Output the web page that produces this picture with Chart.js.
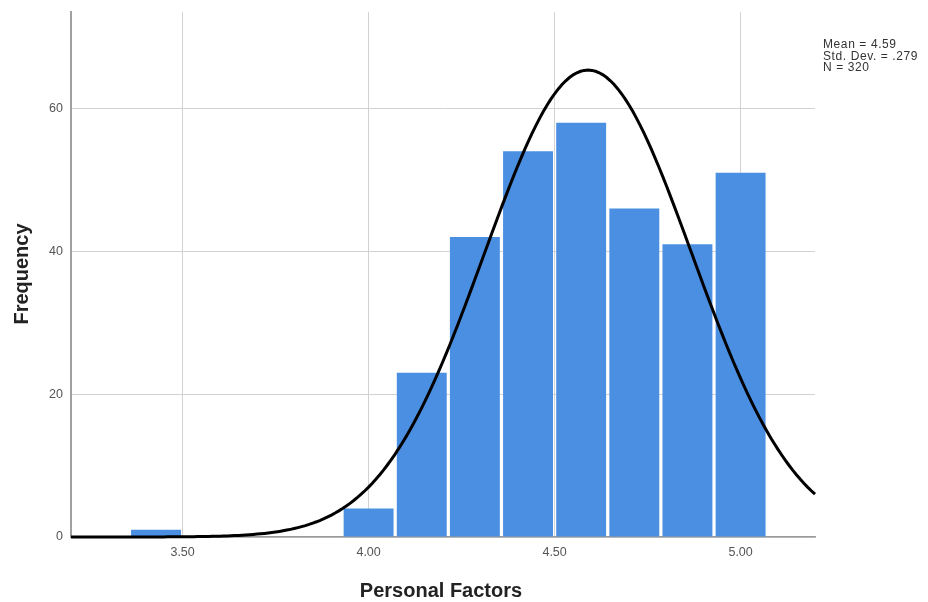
<!DOCTYPE html>
<html>
<head>
<meta charset="utf-8">
<script src="https://cdn.jsdelivr.net/npm/chart.js@4"></script>
<style>
  html, body { margin: 0; padding: 0; background: #ffffff; }
  #wrap { width: 928px; height: 602px; }
</style>
</head>
<body>
<div id="wrap"><canvas id="hist" width="928" height="602"></canvas></div>
<script>
// Histogram of Personal Factors scores (bins of width 1/7)
const BIN_CENTERS = [3.4286, 4.0000, 4.1429, 4.2857, 4.4286, 4.5714, 4.7143, 4.8571, 5.0000];
const FREQUENCIES = [1, 4, 23, 42, 54, 58, 46, 41, 51];
const X_TICKS = [3.5, 4.0, 4.5, 5.0];
const X_TICK_LABELS = ['3.50', '4.00', '4.50', '5.00'];
const Y_TICKS = [0, 20, 40, 60];
const STATS_LINES = ['Mean = 4.59', 'Std. Dev. = .279', 'N = 320'];

// Summary statistics used for the fitted normal curve
const MEAN = 4.59;
const STD_DEV = 0.279;
const N_CASES = 320;
const BIN_WIDTH = 1 / 7;
const X_MIN = 3.2, X_MAX = 5.2;

// Normal density scaled to counts per bin
function normalCount(x) {
  const z = (x - MEAN) / STD_DEV;
  return N_CASES * BIN_WIDTH * Math.exp(-0.5 * z * z) / (STD_DEV * Math.sqrt(2 * Math.PI));
}
const curvePoints = [];
for (let i = 0; i <= 200; i++) {
  const x = X_MIN + (X_MAX - X_MIN) * i / 200;
  curvePoints.push({ x: x, y: normalCount(x) });
}

const barPoints = BIN_CENTERS.map((x, i) => ({ x: x, y: FREQUENCIES[i] }));

const annotations = {
  id: 'annotations',
  afterDraw(chart) {
    const ctx = chart.ctx;
    const area = chart.chartArea;
    ctx.save();
    ctx.fillStyle = '#222222';
    ctx.font = 'bold 20px "Liberation Sans", Arial, sans-serif';
    ctx.textAlign = 'center';
    ctx.textBaseline = 'middle';
    ctx.fillText('Personal Factors', 441, 591);
    ctx.save();
    ctx.translate(22, 274);
    ctx.rotate(-Math.PI / 2);
    ctx.fillText('Frequency', 0, 0);
    ctx.restore();

    ctx.fillStyle = '#333333';
    ctx.font = '12px "Liberation Sans", Arial, sans-serif';
    ctx.letterSpacing = '0.6px';
    ctx.textAlign = 'left';
    STATS_LINES.forEach((t, i) => ctx.fillText(t, area.right + 8, 45 + i * 11.5));
    ctx.restore();
  }
};

new Chart(document.getElementById('hist'), {
  type: 'bar',
  data: {
    datasets: [
      {
        type: 'line',
        data: curvePoints,
        borderColor: '#000000',
        borderWidth: 3,
        pointRadius: 0,
        tension: 0,
        fill: false,
        order: 0,
        clip: 6
      },
      {
        type: 'bar',
        data: barPoints,
        backgroundColor: '#4b8fe2',
        borderWidth: 0,
        barPercentage: 1,
        categoryPercentage: 0.94,
        order: 1
      }
    ]
  },
  options: {
    responsive: false,
    animation: false,
    devicePixelRatio: 1,
    layout: { padding: { left: 0, right: 113, top: 12, bottom: 0 } },
    plugins: {
      legend: { display: false },
      tooltip: { enabled: false }
    },
    scales: {
      x: {
        type: 'linear',
        min: X_MIN,
        max: X_MAX,
        offset: false,
        afterBuildTicks(scale) { scale.ticks = X_TICKS.map(v => ({ value: v })); },
        afterFit(scale) {
          scale.height = 65;
          scale.paddingLeft = 0;
          scale.paddingRight = 0;
        },
        ticks: {
          padding: 8,
          color: '#555555',
          font: { family: '"Liberation Sans", Arial, sans-serif', size: 12.5 },
          maxRotation: 0,
          autoSkip: false,
          callback: (v, i) => X_TICK_LABELS[i]
        },
        grid: { color: '#d2d2d2', lineWidth: 1, drawTicks: false, offset: false },
        border: { color: '#9a9a9a', width: 1.5 }
      },
      y: {
        type: 'linear',
        min: 0,
        max: 73.5,
        afterBuildTicks(scale) { scale.ticks = Y_TICKS.map(v => ({ value: v })); },
        afterFit(scale) {
          scale.width = 71;
          scale.paddingTop = 0;
          scale.paddingBottom = 0;
        },
        ticks: {
          padding: 8,
          color: '#555555',
          font: { family: '"Liberation Sans", Arial, sans-serif', size: 12.5 },
          callback: v => String(v)
        },
        grid: { color: '#d2d2d2', lineWidth: 1, drawTicks: false },
        border: { color: '#a0a0a0', width: 2 }
      }
    }
  },
  plugins: [annotations]
});
</script>
</body>
</html>
